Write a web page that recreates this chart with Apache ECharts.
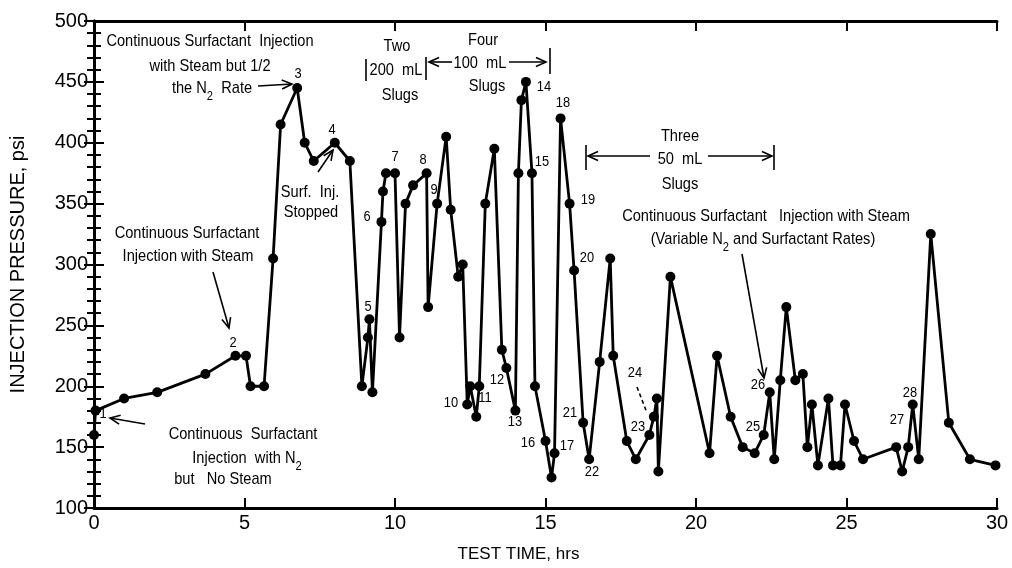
<!DOCTYPE html>
<html lang="en">
  <head>
    <meta charset="UTF-8" />
    <title>Injection pressure</title>
    <style type="text/css">
      html, body { margin: 0; padding: 0; background: #fff; }
      #main { width: 1012px; height: 568px; }
    </style>
  </head>
  <body>
    <div id="main"></div>
    <script src="https://cdn.jsdelivr.net/npm/echarts@6/dist/echarts.min.js"></script>
    <script>
      // test time (hrs) and injection pressure (psi)
      var testTime = [
        0, 0.05, 1, 2.1, 3.7, 4.7, 5.05, 5.2, 5.65, 5.95,
        6.2, 6.75, 7.0, 7.3, 8.0, 8.5, 8.9, 9.1, 9.15, 9.25,
        9.55, 9.6, 9.7, 10.0, 10.15, 10.35, 10.6, 11.05, 11.1, 11.4,
        11.7, 11.85, 12.1, 12.25, 12.4, 12.5, 12.7, 12.8, 13.0, 13.3,
        13.55, 13.7, 14.0, 14.1, 14.2, 14.35, 14.55, 14.65, 15.0, 15.2,
        15.3, 15.5, 15.8, 15.95, 16.25, 16.45, 16.8, 17.15, 17.25, 17.7,
        18.0, 18.45, 18.6, 18.7, 18.75, 19.15, 20.45, 20.7, 21.15, 21.55,
        21.95, 22.25, 22.45, 22.6, 22.8, 23.0, 23.3, 23.55, 23.7, 23.85,
        24.05, 24.4, 24.55, 24.8, 24.95, 25.25, 25.55, 26.65, 26.85, 27.05,
        27.2, 27.4, 27.8, 28.4, 29.1, 29.95
      ];
      var pressure = [
        160, 180, 190, 195, 210, 225, 225, 200, 200, 305,
        415, 445, 400, 385, 400, 385, 200, 240, 255, 195,
        335, 360, 375, 375, 240, 350, 365, 375, 265, 350,
        405, 345, 290, 300, 185, 200, 175, 200, 350, 395,
        230, 215, 180, 375, 435, 450, 375, 200, 155, 125,
        145, 420, 350, 295, 170, 140, 220, 305, 225, 155,
        140, 160, 175, 190, 130, 290, 145, 225, 175, 150,
        145, 160, 195, 140, 205, 265, 205, 210, 150, 185,
        135, 190, 135, 135, 185, 155, 140, 150, 130, 150,
        185, 140, 325, 170, 140, 135
      ];
      var xTicks = [0, 5, 10, 15, 20, 25, 30];
      var yTicks = [100, 150, 200, 250, 300, 350, 400, 450, 500];

      var data = testTime.map(function (t, i) {
        return [t, pressure[i]];
      });

      var FONT = '"Liberation Sans", Arial, Helvetica, sans-serif';
      var subStyle = { fontSize: 13, fontFamily: FONT, padding: [16, 0, 0, 0] };

      // annotation text, centred at x,y
      function txt(x, y, s, size, sx) {
        return {
          type: "text",
          x: x,
          y: y,
          scaleX: sx || 0.86,
          silent: true,
          style: {
            text: s,
            fontSize: size || 17,
            fontFamily: FONT,
            fill: "#000",
            align: "center",
            verticalAlign: "middle",
            textAlign: "center",
            textVerticalAlign: "middle",
            rich: { sub: subStyle }
          }
        };
      }
      function line(pts, dashed) {
        return {
          type: "polyline",
          silent: true,
          shape: { points: pts },
          style: { stroke: "#000", lineWidth: 1.6, fill: null, lineDash: dashed ? [4, 3] : null }
        };
      }
      // line with open arrow head at the end point
      function arrow(x1, y1, x2, y2) {
        var a = Math.atan2(y2 - y1, x2 - x1), L = 11, w = 0.42;
        return [
          line([[x1, y1], [x2, y2]]),
          line([
            [x2 - L * Math.cos(a - w), y2 - L * Math.sin(a - w)],
            [x2, y2],
            [x2 - L * Math.cos(a + w), y2 - L * Math.sin(a + w)]
          ])
        ];
      }
      function num(x, y, s) {
        return txt(x, y, s, 14, 0.92);
      }

      var graphics = [
        // top left
        txt(210, 41, "Continuous Surfactant  Injection"),
        txt(210, 66, "with Steam but 1/2"),
        txt(212, 88, "the N{sub|2}  Rate"),
        // two 200 mL
        txt(397, 46, "Two"),
        txt(396, 70, "200  mL"),
        txt(400, 95, "Slugs"),
        line([[366, 59], [366, 81]]),
        line([[426, 57], [426, 80]]),
        // four 100 mL
        txt(483, 40, "Four"),
        txt(480, 63, "100  mL"),
        txt(487, 86, "Slugs"),
        line([[550, 48], [550, 74]]),
        // surf. inj. stopped
        txt(310, 192, "Surf.  Inj."),
        txt(311, 212, "Stopped"),
        // with steam
        txt(187, 233, "Continuous Surfactant"),
        txt(188, 256, "Injection with Steam"),
        // no steam
        txt(243, 434, "Continuous  Surfactant"),
        txt(247, 458, "Injection  with N{sub|2}"),
        txt(223, 479, "but   No Steam"),
        // three 50 mL
        txt(680, 136, "Three"),
        txt(680, 159, "50  mL"),
        txt(680, 184, "Slugs"),
        line([[586, 145], [586, 170]]),
        line([[774, 145], [774, 170]]),
        // variable rates
        txt(766, 216, "Continuous Surfactant   Injection with Steam"),
        txt(763, 239, "(Variable N{sub|2} and Surfactant Rates)"),
        line([[637, 387], [647, 413]], true),
        // point numbers
        num(103, 414, "1"), num(233, 343, "2"), num(298, 74, "3"), num(332, 130, "4"),
        num(368, 307, "5"), num(367, 217, "6"), num(395, 157, "7"), num(423, 160, "8"),
        num(434, 190, "9"), num(451, 403, "10"), num(485, 398, "11"), num(497, 380, "12"),
        num(515, 422, "13"), num(544, 87, "14"), num(542, 162, "15"), num(528, 443, "16"),
        num(567, 446, "17"), num(563, 103, "18"), num(588, 200, "19"), num(587, 258, "20"),
        num(570, 413, "21"), num(592, 472, "22"), num(638, 427, "23"), num(635, 373, "24"),
        num(753, 427, "25"), num(758, 385, "26"), num(897, 420, "27"), num(910, 393, "28")
      ]
        .concat(arrow(258, 86, 292, 84))
        .concat(arrow(452, 62, 429, 62))
        .concat(arrow(509, 62, 546, 62))
        .concat(arrow(318, 172, 333, 150))
        .concat(arrow(213, 272, 229, 328))
        .concat(arrow(145, 424, 110, 418))
        .concat(arrow(650, 156, 588, 156))
        .concat(arrow(708, 156, 772, 156))
        .concat(arrow(742, 254, 764, 378));

      var axisLine = { show: true, lineStyle: { color: "#000", width: 3 } };
      var tick = { show: true, inside: true, length: 10, lineStyle: { color: "#000", width: 2 } };
      var minor = { show: true, splitNumber: 5, length: 7, lineStyle: { color: "#000", width: 2 } };
      var label = { color: "#000", fontSize: 20, fontFamily: FONT };

      var myChart = echarts.init(document.getElementById("main"), null, { renderer: "canvas" });
      var option = {
        animation: false,
        backgroundColor: "#fff",
        grid: { left: 92, right: 15, top: 21, bottom: 59 },
        xAxis: [
          {
            type: "value", position: "bottom",
            min: xTicks[0], max: xTicks[xTicks.length - 1], interval: xTicks[1] - xTicks[0],
            axisLine: axisLine, axisTick: tick,
            axisLabel: Object.assign({ margin: 5 }, label),
            splitLine: { show: false },
            name: "TEST TIME, hrs", nameLocation: "middle", nameGap: 38,
            nameTextStyle: { color: "#000", fontSize: 17, fontFamily: FONT, padding: [0, 54, 0, 0] }
          },
          {
            type: "value", position: "top",
            min: xTicks[0], max: xTicks[xTicks.length - 1], interval: xTicks[1] - xTicks[0],
            axisLine: axisLine, axisTick: tick,
            axisLabel: { show: false }, splitLine: { show: false }
          }
        ],
        yAxis: [
          {
            type: "value", position: "left",
            min: yTicks[0], max: yTicks[yTicks.length - 1], interval: yTicks[1] - yTicks[0],
            axisLine: axisLine, axisTick: tick, minorTick: minor,
            axisLabel: Object.assign({ margin: 6 }, label),
            splitLine: { show: false }, minorSplitLine: { show: false },
            name: "INJECTION PRESSURE, psi", nameLocation: "middle", nameGap: 66,
            nameTextStyle: { color: "#000", fontSize: 20, fontFamily: FONT }
          },
          {
            type: "value", position: "right",
            min: yTicks[0], max: yTicks[yTicks.length - 1], interval: yTicks[1] - yTicks[0],
            axisLine: axisLine, axisTick: tick, minorTick: minor,
            axisLabel: { show: false }, splitLine: { show: false }
          }
        ],
        series: [
          {
            type: "line",
            data: data,
            symbol: "circle",
            symbolSize: 10,
            showAllSymbol: true,
            lineStyle: { color: "#000", width: 2.8 },
            itemStyle: { color: "#000" }
          }
        ],
        graphic: graphics
      };
      myChart.setOption(option);
    </script>
  </body>
</html>
